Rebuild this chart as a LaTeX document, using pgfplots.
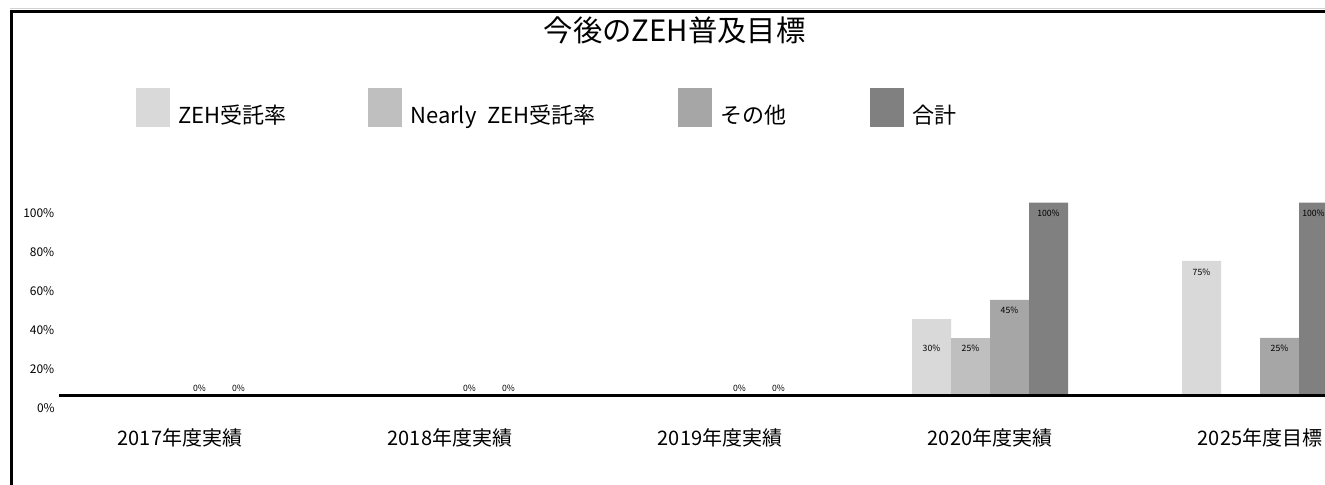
\documentclass[border=0pt]{standalone}
\usepackage{fontspec}
\setmainfont{Noto Sans CJK JP}
\usepackage{pgfplots}
\pgfplotsset{compat=1.18}
\definecolor{cA}{HTML}{D9D9D9}
\definecolor{cB}{HTML}{BFBFBF}
\definecolor{cC}{HTML}{A6A6A6}
\definecolor{cD}{HTML}{808080}
\begin{document}
\begin{tikzpicture}
\useasboundingbox (0,0) rectangle (993.75pt,363.75pt);
\draw[gray!35, line width=0.75pt] (7.5pt,357.4pt) -- (993.75pt,357.4pt);
\draw[black, line width=2.25pt] (8.6pt,0pt) -- (8.6pt,355.1pt) -- (993.75pt,355.1pt);
\node[font=\fontsize{22}{26}\selectfont] at (506pt,341.25pt) {今後のZEH普及目標};
\begin{axis}[
 at={(44.25pt,66.75pt)}, anchor=south west,
 scale only axis, width=949.5pt, height=154.8pt,
 xmin=-0.4481, xmax=4.2407, ymin=6.15, ymax=112,
 axis line style={draw=none},
 major tick length=0pt,
 xtick={0,1,2,3,4},
 xticklabels={2017年度実績,2018年度実績,2019年度実績,2020年度実績,2025年度目標},
 xticklabel style={font=\fontsize{15}{18}\selectfont, anchor=center, yshift=-31.5pt},
 ytick={20,40,60,80,100},
 yticklabel={\pgfmathprintnumber{\tick}\%},
 yticklabel style={font=\fontsize{9}{11}\selectfont},
 /pgf/number format/assume math mode=true,
 legend image code/.code={\fill[#1,draw=none] (0pt,-9pt) rectangle (25.5pt,20.25pt);},
 legend columns=4,
 legend cell align=left,
 legend style={at={(0.06082,1.3978)}, anchor=west, draw=none, fill=none, inner sep=0pt,
   nodes={inner sep=0pt},
   /tikz/every odd column/.append style={column sep=6pt},
   font=\fontsize{16.5}{19}\selectfont},
]
\addplot[ybar, bar width=0.14444, bar shift=-0.21667, fill=cA, draw=none] coordinates {(3,45.6) (4,75.5)};
\addlegendentry{\makebox[142.5pt][l]{ZEH受託率}}
\addplot[ybar, bar width=0.14444, bar shift=-0.07222, fill=cB, draw=none] coordinates {(3,36)};
\addlegendentry{\makebox[201pt][l]{Nearly\hspace{0.5em}ZEH受託率}}
\addplot[ybar, bar width=0.14444, bar shift=0.07222, fill=cC, draw=none] coordinates {(0,0) (1,0) (2,0) (3,55.4) (4,36)};
\addlegendentry{\makebox[112.5pt][l]{その他}}
\addplot[ybar, bar width=0.14444, bar shift=0.21667, fill=cD, draw=none] coordinates {(0,0) (1,0) (2,0) (3,105.3) (4,105.3)};
\addlegendentry{合計}
\addplot[forget plot, only marks, mark=*, mark size=0pt, mark options={draw=none,fill=none},
  point meta=explicit symbolic, nodes near coords,
  every node near coord/.append style={anchor=center, font=\fontsize{6.5}{7.5}\selectfont}]
 coordinates {
 (0.07222,10.26) [0\%] (0.21667,10.26) [0\%]
 (1.07222,10.26) [0\%] (1.21667,10.26) [0\%]
 (2.07222,10.26) [0\%] (2.21667,10.26) [0\%]
 (2.78333,30.8) [30\%] (2.92778,30.8) [25\%] (3.07222,50.3) [45\%] (3.21667,100) [100\%]
 (3.78333,69.7) [75\%] (4.07222,30.8) [25\%] (4.198,100) [100\%]
 };
\end{axis}
\draw[black, line width=2.25pt] (44.25pt,66.75pt) -- (993.75pt,66.75pt);
\node[anchor=east, font=\fontsize{9}{11}\selectfont, inner sep=0pt] at (41.3pt,57.75pt) {0\%};
\end{tikzpicture}
\end{document}
